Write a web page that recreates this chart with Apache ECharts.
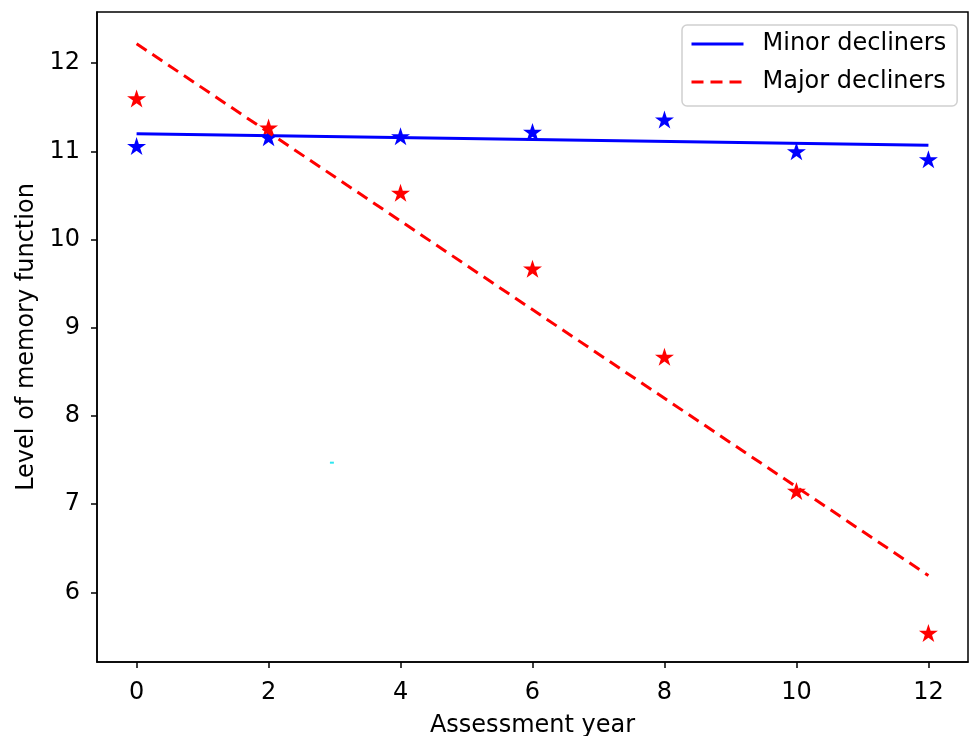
<!DOCTYPE html>
<html>
<head>
<meta charset="utf-8">
<title>Memory function</title>
<script src="https://cdn.jsdelivr.net/npm/echarts@6/dist/echarts.min.js"></script>
<style>
  html, body { margin: 0; padding: 0; background: #fff; }
  #chart { width: 971px; height: 736px; }
</style>
</head>
<body>
<div id="chart"></div>
<script>
// data
var years = [0, 2, 4, 6, 8, 10, 12];
var minorPoints = [11.06, 11.16, 11.17, 11.22, 11.36, 11.00, 10.91];
var majorPoints = [11.60, 11.27, 10.53, 9.67, 8.67, 7.15, 5.54];
// fitted lines, start and end
var fitYears = [0, 12];
var minorFit = [11.20, 11.07];
var majorFit = [12.22, 6.19];
// small cyan stroke seen in the plot
var strayX = [2.93, 2.99];
var strayY = [7.47, 7.47];
var xTicks = [0, 2, 4, 6, 8, 10, 12];
var yTicks = [6, 7, 8, 9, 10, 11, 12];

var star = 'path://M50 0 L61.23 34.55 L97.55 34.55 L68.17 55.9 L79.39 90.45 L50 69.1 L20.61 90.45 L31.83 55.9 L2.45 34.55 L38.77 34.55 Z';
var font = 'DejaVu Sans';

function pairs(xs, ys) {
  return xs.map(function (x, i) { return [x, ys[i]]; });
}

var myChart = echarts.init(document.getElementById('chart'));

var option = {
  animation: false,
  backgroundColor: '#fff',
  textStyle: { fontFamily: font },
  grid: {
    left: 97, right: 3, top: 12, bottom: 74,
    outerBoundsMode: 'none',
    show: true,
    borderColor: '#000',
    borderWidth: 1.5
  },
  legend: {
    data: ['Minor decliners', 'Major decliners'],
    orient: 'vertical',
    left: 682,
    top: 25,
    padding: [7, 11, 12, 8],
    itemWidth: 52,
    itemHeight: 24,
    itemGap: 14,
    backgroundColor: '#fff',
    borderColor: '#d0d0d0',
    borderWidth: 1.5,
    borderRadius: 5,
    itemStyle: { opacity: 0 },
    lineStyle: { width: 3 },
    textStyle: { fontFamily: font, fontSize: 24, color: '#000', padding: [0, 0, 0, 14] }
  },
  xAxis: {
    type: 'value',
    min: -0.6,
    max: 12.6,
    name: 'Assessment year',
    nameLocation: 'middle',
    nameGap: 52,
    nameTextStyle: { fontFamily: font, fontSize: 24, color: '#000' },
    splitLine: { show: false },
    axisLine: { show: true, onZero: false, lineStyle: { color: '#000', width: 1.5 } },
    axisTick: { show: true, length: 6, lineStyle: { color: '#000', width: 1.5 }, customValues: xTicks },
    axisLabel: { fontFamily: font, fontSize: 24, color: '#000', margin: 19, customValues: xTicks }
  },
  yAxis: {
    type: 'value',
    min: 5.21,
    max: 12.58,
    name: 'Level of memory function',
    nameLocation: 'middle',
    nameGap: 58,
    nameTextStyle: { fontFamily: font, fontSize: 24, color: '#000' },
    splitLine: { show: false },
    axisLine: { show: true, onZero: false, lineStyle: { color: '#000', width: 1.5 } },
    axisTick: { show: true, length: 6, lineStyle: { color: '#000', width: 1.5 }, customValues: yTicks },
    axisLabel: { fontFamily: font, fontSize: 24, color: '#000', margin: 17, customValues: yTicks }
  },
  series: [
    {
      type: 'scatter',
      symbol: star,
      symbolSize: [19, 18],
      itemStyle: { color: '#0000ff', opacity: 1 },
      data: pairs(years, minorPoints),
      z: 2
    },
    {
      type: 'scatter',
      symbol: star,
      symbolSize: [19, 18],
      itemStyle: { color: '#ff0000', opacity: 1 },
      data: pairs(years, majorPoints),
      z: 2
    },
    {
      name: 'Minor decliners',
      type: 'line',
      symbol: 'none',
      lineStyle: { color: '#0000ff', width: 3 },
      itemStyle: { color: '#0000ff' },
      data: pairs(fitYears, minorFit),
      z: 3
    },
    {
      name: 'Major decliners',
      type: 'line',
      symbol: 'none',
      lineStyle: { color: '#ff0000', width: 3, type: [12, 7] },
      itemStyle: { color: '#ff0000' },
      data: pairs(fitYears, majorFit),
      z: 3
    },
    {
      type: 'line',
      symbol: 'none',
      silent: true,
      lineStyle: { color: '#2ee6f0', width: 2 },
      data: pairs(strayX, strayY),
      z: 3
    }
  ]
};

myChart.setOption(option);
</script>
</body>
</html>
